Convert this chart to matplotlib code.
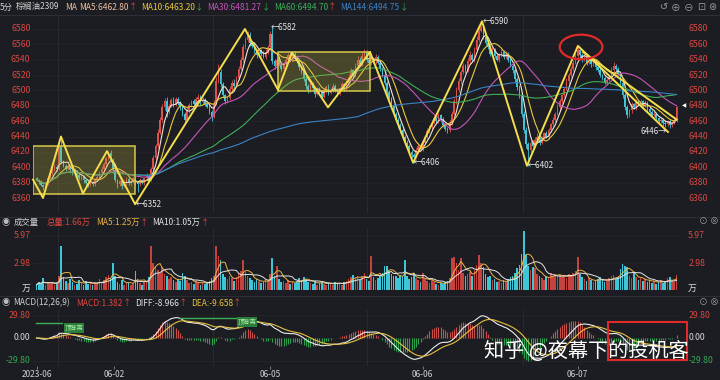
import numpy as np
import pandas as pd
import matplotlib
matplotlib.use('Agg')
import matplotlib.pyplot as plt
from matplotlib.patches import Rectangle, Ellipse
from matplotlib.transforms import blended_transform_factory

plt.rcParams['font.family'] = ['Noto Sans CJK SC', 'DejaVu Sans']

# ---------------- data (5-minute bars, palm oil 2309) ----------------
first_open = 6386
closes = [
    6384, 6381, 6377, 6374, 6379, 6386, 6392, 6397, 6401, 6398,
    6426, 6407, 6402, 6398, 6401, 6396, 6392, 6395, 6390, 6386,
    6388, 6383, 6380, 6377, 6381, 6378, 6384, 6388, 6393, 6398,
    6404, 6412, 6418, 6410, 6396, 6384, 6378, 6382, 6376, 6380,
    6385, 6379, 6382, 6386, 6381, 6378, 6383, 6380, 6386, 6389,
    6384, 6398, 6412, 6428, 6445, 6462, 6478, 6486, 6472, 6480,
    6487, 6482, 6489, 6484, 6478, 6470, 6462, 6474, 6481, 6486,
    6483, 6489, 6492, 6485, 6488, 6483, 6479, 6472, 6466, 6484,
    6512, 6524, 6508, 6494, 6486, 6490, 6502, 6510, 6506, 6516,
    6528, 6540, 6556, 6566, 6572, 6562, 6558, 6552, 6546, 6552,
    6548, 6544, 6550, 6556, 6574, 6538, 6532, 6540, 6535, 6528,
    6534, 6540, 6546, 6541, 6548, 6544, 6538, 6530, 6524, 6515,
    6506, 6500, 6508, 6503, 6496, 6502, 6498, 6492, 6500, 6505,
    6497, 6501, 6506, 6500, 6496, 6503, 6508, 6502, 6510, 6518,
    6526, 6520, 6532, 6540, 6535, 6545, 6550, 6540, 6536, 6542,
    6538, 6544, 6536, 6528, 6520, 6510, 6498, 6490, 6480, 6470,
    6462, 6455, 6448, 6440, 6432, 6428, 6420, 6416, 6414, 6422,
    6428, 6424, 6432, 6440, 6447, 6452, 6458, 6464, 6460, 6468,
    6462, 6455, 6450, 6448, 6458, 6470, 6486, 6500, 6512, 6524,
    6532, 6526, 6538, 6546, 6540, 6552, 6566, 6578, 6582, 6570,
    6562, 6556, 6548, 6552, 6545, 6540, 6546, 6550, 6544, 6548,
    6540, 6532, 6526, 6515, 6504, 6494, 6470, 6448, 6430, 6422,
    6432, 6428, 6436, 6440, 6432, 6438, 6444, 6440, 6448, 6456,
    6462, 6470, 6478, 6486, 6494, 6502, 6512, 6520, 6528, 6536,
    6545, 6552, 6546, 6540, 6544, 6536, 6540, 6534, 6538, 6530,
    6527, 6520, 6516, 6510, 6514, 6518, 6526, 6532, 6528, 6522,
    6510, 6494, 6478, 6468, 6474, 6482, 6478, 6486, 6482, 6486,
    6480, 6484, 6476, 6472, 6468, 6470, 6464, 6460, 6462, 6458,
    6456, 6460, 6455, 6458, 6462, 6478,
]
up_wick = [
    2, 1, 3, 1, 2, 3, 2, 4, 3, 2,  4, 10, 3, 2, 3, 1, 2, 4, 2, 1,
    3, 2, 1, 2, 3, 1, 2, 3, 2, 4,  3, 2, 3, 4, 2, 3, 1, 2, 2, 3,
    2, 3, 1, 2, 2, 1, 3, 2, 2, 3,  2, 3, 4, 2, 5, 3, 4, 4, 6, 3,
    3, 4, 2, 3, 2, 3, 2, 4, 3, 2,  3, 2, 3, 2, 3, 2, 2, 3, 2, 4,
    6, 11, 4, 3, 2, 3, 4, 3, 5, 3,  4, 3, 5, 4, 6, 4, 3, 4, 2, 3,
    2, 3, 4, 3, 4, 8, 3, 4, 3, 2,  3, 4, 3, 4, 2, 3, 2, 3, 2, 4,
    3, 2, 4, 3, 2, 3, 2, 3, 3, 2,  3, 2, 4, 2, 3, 2, 3, 2, 3, 4,
    3, 2, 4, 5, 3, 5, 4, 3, 2, 3,  2, 3, 2, 3, 2, 3, 2, 3, 2, 3,
    2, 3, 2, 3, 2, 3, 2, 3, 2, 3,  3, 2, 3, 2, 4, 3, 3, 4, 2, 3,
    2, 3, 2, 3, 4, 3, 4, 5, 4, 3,  4, 3, 4, 5, 3, 4, 5, 6, 8, 4,
    3, 4, 3, 4, 3, 4, 3, 4, 3, 3,  2, 3, 2, 3, 2, 3, 4, 3, 4, 3,
    3, 4, 3, 4, 2, 3, 2, 3, 3, 2,  3, 2, 4, 3, 2, 3, 4, 3, 4, 3,
    4, 6, 4, 3, 4, 2, 3, 3, 2, 3,  2, 3, 2, 3, 2, 3, 4, 5, 3, 2,
    3, 2, 4, 3, 2, 3, 2, 3, 2, 3,  2, 3, 2, 3, 2, 3, 2, 2, 3, 2,
    3, 2, 3, 2, 3, 2,
]
down_wick = [
    2, 3, 2, 4, 1, 2, 3, 2, 2, 3,  2, 3, 2, 3, 2, 3, 2, 2, 3, 2,
    2, 3, 4, 3, 2, 3, 2, 2, 3, 2,  2, 3, 2, 3, 4, 3, 5, 2, 4, 2,
    3, 2, 3, 2, 4, 10, 3, 2, 3, 2,  3, 2, 3, 2, 3, 2, 3, 4, 6, 3,
    2, 3, 2, 3, 4, 3, 4, 2, 3, 2,  3, 2, 3, 4, 2, 3, 2, 3, 6, 2,
    3, 2, 4, 3, 3, 2, 3, 2, 4, 2,  3, 2, 3, 2, 3, 4, 3, 3, 4, 2,
    3, 2, 3, 2, 3, 4, 4, 3, 2, 3,  2, 3, 2, 3, 2, 3, 2, 3, 2, 3,
    4, 3, 2, 3, 4, 2, 3, 3, 2, 3,  3, 2, 3, 2, 3, 2, 2, 3, 2, 3,
    2, 3, 2, 3, 2, 3, 2, 3, 2, 3,  2, 3, 2, 3, 2, 3, 4, 3, 4, 3,
    3, 4, 3, 4, 3, 4, 3, 4, 8, 2,  3, 2, 3, 2, 3, 2, 3, 2, 3, 2,
    3, 2, 3, 3, 2, 3, 2, 3, 2, 3,  2, 3, 2, 3, 2, 3, 2, 3, 2, 3,
    3, 2, 3, 2, 3, 2, 3, 2, 3, 2,  3, 2, 3, 4, 3, 4, 4, 4, 5, 20,
    3, 2, 3, 2, 3, 2, 3, 2, 3, 2,  2, 3, 2, 3, 2, 3, 2, 3, 2, 3,
    2, 3, 2, 3, 2, 3, 2, 3, 2, 3,  3, 2, 3, 2, 3, 2, 3, 2, 3, 2,
    3, 4, 3, 4, 2, 3, 2, 3, 2, 3,  3, 2, 3, 2, 3, 2, 3, 2, 3, 4,
    3, 2, 4, 3, 2, 3,
]
volumes = [  # 万手
    0.6, 0.9, 0.7, 1.3, 0.5, 0.8, 0.7, 0.9, 0.6, 0.8,
    1.6, 4.9, 1.4, 1.0, 0.8, 1.2, 0.9, 0.6, 0.7, 1.1,
    0.8, 0.6, 1.0, 0.7, 0.9, 0.5, 0.8, 0.7, 1.2, 0.9,
    1.1, 1.4, 1.7, 1.3, 3.0, 1.5, 0.9, 0.7, 1.1, 0.6,
    0.8, 0.9, 0.6, 0.7, 2.1, 1.2, 0.8, 0.6, 0.9, 1.0,
    1.4, 4.9, 3.0, 2.6, 2.2, 1.9, 2.5, 1.8, 1.6, 1.2,
    1.4, 1.1, 0.9, 1.2, 1.0, 1.9, 1.5, 1.1, 0.8, 0.9,
    0.7, 1.0, 0.8, 0.6, 0.9, 0.7, 0.8, 1.0, 1.3, 1.6,
    4.9, 3.8, 3.3, 1.8, 1.4, 1.2, 1.5, 1.3, 1.0, 1.4,
    1.8, 2.1, 3.3, 2.0, 1.6, 1.3, 1.1, 0.9, 1.2, 1.0,
    0.8, 0.9, 1.1, 1.0, 1.8, 3.5, 1.6, 2.6, 1.2, 0.9,
    1.0, 0.8, 1.1, 0.7, 0.9, 0.8, 1.0, 1.3, 1.1, 1.4,
    1.2, 0.9, 0.8, 0.7, 1.0, 0.6, 0.8, 0.9, 0.7, 0.6,
    0.8, 0.7, 0.6, 0.9, 0.7, 0.8, 0.6, 0.9, 1.0, 1.2,
    1.4, 1.7, 1.3, 1.5, 1.1, 1.6, 1.9, 1.2, 1.0, 3.8,
    1.4, 1.1, 1.3, 1.6, 1.9, 2.7, 2.7, 2.1, 1.8, 1.6,
    1.5, 1.3, 1.7, 1.4, 3.3, 1.6, 1.2, 1.4, 1.9, 1.3,
    1.1, 0.9, 1.9, 1.2, 1.0, 0.8, 1.1, 0.9, 0.7, 0.6,
    0.8, 0.7, 0.9, 1.0, 1.3, 3.5, 3.6, 3.0, 2.2, 3.5,
    1.9, 1.6, 1.8, 2.0, 1.5, 2.2, 2.8, 3.9, 3.0, 2.5,
    1.8, 1.4, 1.6, 1.1, 1.2, 0.9, 1.0, 0.8, 1.1, 0.9,
    1.2, 1.4, 1.6, 1.9, 2.4, 2.8, 4.0, 6.5, 3.9, 2.6,
    2.2, 2.5, 2.4, 1.8, 1.6, 1.3, 1.1, 1.5, 1.4, 1.9,
    1.6, 1.8, 1.5, 1.7, 1.4, 1.6, 1.3, 1.8, 1.5, 1.9,
    2.1, 3.6, 1.8, 1.4, 1.2, 1.0, 1.3, 1.1, 0.9, 1.0,
    1.2, 1.4, 1.1, 0.9, 1.0, 1.3, 1.5, 1.7, 1.2, 1.4,
    2.3, 2.9, 2.7, 2.5, 1.6, 1.3, 1.9, 1.4, 1.1, 1.3,
    1.0, 1.2, 0.9, 1.1, 0.8, 1.0, 0.7, 0.9, 1.1, 0.8,
    0.9, 1.3, 1.4, 1.0, 0.9, 1.66,
]
assert len(closes) == len(up_wick) == len(down_wick) == len(volumes) == 286

date_labels = ['2023-06', '06-02', '06-05', '06-06', '06-07']
date_pos = [0, 34.5, 104, 172, 241]
session_lines = [9.6, 78.6, 147.2, 216.7]

ma_periods = [5, 10, 30, 60, 144]
ma_colors = ['#f3e4da', '#e8c83c', '#c455b8', '#3fae55', '#3b82c4']

# hand-drawn zigzag and annotations
zz_x = [-1.56, 2.9, 10.9, 20.7, 31.4, 43.9, 92.8, 107.5, 113.8, 129.8, 148.5,
        167.7, 198.4, 218.4, 241.1, 281.2]
zz_y = [6384, 6360, 6440, 6366, 6421, 6352, 6580, 6501, 6549, 6478, 6550,
        6406, 6590, 6402, 6558, 6446]
wedge_x = [243.4, 285.1]
wedge_y = [6550, 6462]
boxes = [(-1.56, 43.9, 6365, 6428), (107.5, 148.5, 6499, 6550)]
mark_x = [43.9, 104.0, 167.7, 198.4, 218.4]
mark_y = [6352, 6582, 6406, 6590, 6402]
mark_low_right = (281.2, 6446)
last_price = 6480

price_ticks = [6360, 6380, 6400, 6420, 6440, 6460, 6480, 6500, 6520, 6540, 6560, 6580]
vol_ticks = [0, 2.98, 5.97]
vol_tick_labels = ['万', '2.98', '5.97']
macd_ticks = [-29.8, 0, 29.8]
macd_tick_labels = ['-29.80', '0.00', '29.80']

# ---------------- derived series ----------------
c = np.array(closes, dtype=float)
o = np.concatenate([[first_open], c[:-1]])
h = np.maximum(o, c) + np.array(up_wick)
l = np.minimum(o, c) - np.array(down_wick)
v = np.array(volumes)
idx = np.arange(len(c))
s = pd.Series(c)
diff = s.ewm(span=12, adjust=False).mean() - s.ewm(span=26, adjust=False).mean()
dea = diff.ewm(span=9, adjust=False).mean()
hist = 2 * (diff - dea)

# ---------------- figure ----------------
BG = '#1c1d22'
RED = '#d9473f'
CYAN = '#3ec6d6'
GREEN = '#33a853'
fig = plt.figure(figsize=(7.2, 3.8), dpi=100, facecolor=BG)

def fx(px):
    return px / 720.0

def fy(py):
    return 1 - py / 380.0

L, R = 33, 681
W = (R - L) / 720.0
XLIM = (-1.56, 287.0)

ax = fig.add_axes([fx(L), fy(213), W, (213 - 15) / 380.0])
axv = fig.add_axes([fx(L), fy(290), W, (290 - 228) / 380.0])
axm = fig.add_axes([fx(L), fy(366), W, (366 - 310) / 380.0])

for a in (ax, axv, axm):
    a.set_facecolor(BG)
    a.set_xlim(*XLIM)
    a.set_xticks([])
    a.set_yticks([])
    for sp in a.spines.values():
        sp.set_visible(False)
    for sl in session_lines:
        a.axvline(sl, color='#2b2c32', lw=0.6, zorder=0)

# separators
for py in (15, 217, 296):
    fig.add_artist(plt.Line2D([0, 1], [fy(py), fy(py)], color='#2e2f35', lw=0.8))

# ---- main price panel ----
ax.set_ylim(6340.5, 6598.2)
for p in price_ticks:
    ax.axhline(p, color='#26272c', lw=0.5, zorder=0)
up = c >= o
col = np.where(up, '#e0504a', CYAN)
ax.vlines(idx, l, h, colors=col, lw=0.6, zorder=2)
body = np.where(np.abs(c - o) < 0.8, 0.8, c - o)
ax.bar(idx, body, bottom=o, width=0.72, color=col, linewidth=0, zorder=3)

for per, mc in zip(ma_periods, ma_colors):
    ma = s.rolling(per, min_periods=1).mean()
    start = 45 if per == 144 else 0
    ax.plot(idx[start:], ma[start:], color=mc, lw=0.8, zorder=4)

for (x0, x1, y0, y1) in boxes:
    ax.add_patch(Rectangle((x0, y0), x1 - x0, y1 - y0, facecolor='#b8b040',
                           alpha=0.28, edgecolor='none', zorder=5))
    ax.add_patch(Rectangle((x0, y0), x1 - x0, y1 - y0, facecolor='none',
                           edgecolor='#d8c84a', lw=1.1, zorder=6))
ax.plot(zz_x, zz_y, color='#f4de4c', lw=1.4, zorder=7, clip_on=False)
ax.plot(wedge_x, wedge_y, color='#f4de4c', lw=1.4, zorder=7)
for mx, my in zip(mark_x, mark_y):
    ax.text(mx + 0.5, my, '←' + str(my), color='#e6e6e6', fontsize=5.8,
            va='center', ha='left', zorder=8, clip_on=False)
ax.text(mark_low_right[0] - 0.5, mark_low_right[1], str(mark_low_right[1]) + '→',
        color='#e6e6e6', fontsize=5.8, va='center', ha='right', zorder=8)
ax.add_patch(Ellipse((242.5, 6556.6), 19, 32, facecolor='none', edgecolor='#e02a2a',
                     lw=1.6, zorder=9))

tm = blended_transform_factory(ax.transAxes, ax.transData)
for p in price_ticks:
    ax.text(-0.004, p, str(p), transform=tm, ha='right', va='center', color=RED,
            fontsize=6.3, clip_on=False)
    ax.text(1.011, p, str(p), transform=tm, ha='left', va='center', color=RED,
            fontsize=6.3, clip_on=False)
ax.text(1.0015, last_price, '◀', transform=tm, ha='left', va='center', color='white',
        fontsize=4, clip_on=False, family='DejaVu Sans')

# ---- volume panel ----
axv.set_ylim(0, 6.85)
for t in vol_ticks[1:]:
    axv.axhline(t, color='#26272c', lw=0.5, zorder=0)
vcol = np.where(up, '#c4433e', CYAN)
axv.bar(idx, v, width=0.72, color=vcol, linewidth=0, zorder=2)
axv.plot(idx, pd.Series(v).rolling(5, min_periods=1).mean(), color='#e8b448', lw=0.7, zorder=3)
axv.plot(idx, pd.Series(v).rolling(10, min_periods=1).mean(), color='#e4e4e4', lw=0.7, zorder=3)
tv = blended_transform_factory(axv.transAxes, axv.transData)
for t, lab in zip(vol_ticks, vol_tick_labels):
    cc = '#e0e0e0' if lab == '万' else RED
    yy = t + 0.15 if lab == '万' else t
    axv.text(-0.004, yy, lab, transform=tv, ha='right', va='center', color=cc, fontsize=6.3, clip_on=False)
    axv.text(1.011, yy, lab, transform=tv, ha='left', va='center', color=cc, fontsize=6.3, clip_on=False)

# ---- MACD panel ----
axm.set_ylim(-36.3, 36.3)
for t in macd_ticks:
    axm.axhline(t, color='#26272c', lw=0.5, zorder=0)
hcol = np.where(hist >= 0, '#c8504a', '#2f9e4e')
axm.vlines(idx, 0, hist, colors=hcol, lw=0.8, zorder=2)
axm.plot(idx, diff, color='#ececec', lw=0.8, zorder=3)
axm.plot(idx, dea, color='#e6c040', lw=0.8, zorder=3)
# divergence markers
axm.plot([-0.2, 11.4], [19.4, 19.4], color='#3cae55', lw=1.0, zorder=4)
axm.text(16.7, 13, '顶背离', color='#a8f0a8', fontsize=4.5, ha='center', va='center',
         bbox=dict(facecolor='#2e7d3a', edgecolor='none', pad=0.6), zorder=5)
axm.plot([63.9, 89.3], [25.9, 25.9], color='#3cae55', lw=1.0, zorder=4)
axm.text(93.7, 20.7, '顶背离', color='#a8f0a8', fontsize=4.5, ha='center', va='center',
         bbox=dict(facecolor='#2e7d3a', edgecolor='none', pad=0.6), zorder=5)
axm.add_patch(Rectangle((254.5, -28.5), 35.2, 49.2, facecolor='none', edgecolor='#e02a2a',
                        lw=1.5, zorder=6, clip_on=False))
tmm = blended_transform_factory(axm.transAxes, axm.transData)
for t, lab, cc in zip(macd_ticks, macd_tick_labels, [GREEN, '#d8d8d8', RED]):
    axm.text(-0.004, t, lab, transform=tmm, ha='right', va='center', color=cc, fontsize=6.3, clip_on=False)
    axm.text(1.011, t, lab, transform=tmm, ha='left', va='center', color=cc, fontsize=6.3, clip_on=False)

# date axis
axm.set_xticks(date_pos)
axm.set_xticklabels(date_labels, color='#cfcfcf', fontsize=6)
axm.tick_params(axis='x', length=2.5, color='#777777', pad=0.5)

# ---------------- header texts (laid out one after another) ----------------
renderer = fig.canvas.get_renderer()

def seq(px, py, items, size=6):
    x = px
    for txt, color, gap in items:
        t = fig.text(fx(x), fy(py), txt, color=color, fontsize=size, ha='left', va='center')
        x += t.get_window_extent(renderer=renderer).width + gap

seq(0, 7, [('5分', '#cfcfcf', 3), ('棕榈油2309', '#cfcfcf', 6),
           ('MA', '#efbf9f', 2), ('MA5:6462.80', '#efbf9f', 0), ('↑', RED, 4),
           ('MA10:6463.20', '#e8c83c', 0), ('↓', GREEN, 4),
           ('MA30:6481.27', '#c455b8', 0), ('↓', GREEN, 4),
           ('MA60:6494.70', '#3fae55', 0), ('↑', RED, 4),
           ('MA144:6494.75', '#3b82c4', 0), ('↓', GREEN, 0)])
seq(660, 7, [('↺', '#9a9a9a', 3), ('⊕', '#9a9a9a', 3), ('⊖', '#9a9a9a', 3),
             ('⊡', '#9a9a9a', 3), ('⊛', '#9a9a9a', 0)], size=7)

seq(2, 222, [('◉', '#bdbdbd', 3), ('成交量', '#cfcfcf', 8), ('总量:1.66万', RED, 6),
             ('MA5:1.25万', '#e8b448', 0), ('↑', RED, 4),
             ('MA10:1.05万', '#e4e4e4', 0), ('↑', RED, 0)])
seq(699, 222, [('⊙', '#9a9a9a', 2), ('⊗', '#9a9a9a', 0)], size=6.5)

seq(2, 303, [('◉', '#bdbdbd', 3), ('MACD(12,26,9)', '#cfcfcf', 6),
             ('MACD:1.382', RED, 0), ('↑', RED, 4),
             ('DIFF:-8.966', '#e4e4e4', 0), ('↑', RED, 4),
             ('DEA:-9.658', '#e6c040', 0), ('↑', RED, 0)])
seq(699, 303, [('⊙', '#9a9a9a', 2), ('⊗', '#9a9a9a', 0)], size=6.5)

# watermark
fig.text(fx(484), fy(351), '知乎 @夜幕下的投机客', color='white', fontsize=14.5,
         ha='left', va='center')

fig.savefig('out.png', dpi=100, facecolor=BG)
